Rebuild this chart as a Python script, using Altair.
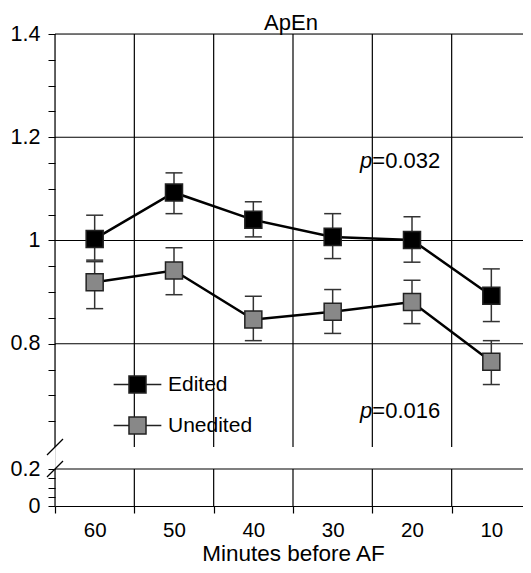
import altair as alt
import pandas as pd

FONT = "Liberation Sans"

minutes = ["60", "50", "40", "30", "20", "10"]
series_names = ["Edited", "Unedited"]

edited_mean = [1.003, 1.093, 1.040, 1.007, 1.001, 0.893]
edited_upper = [1.049, 1.131, 1.075, 1.052, 1.046, 0.945]
edited_lower = [0.962, 1.052, 1.007, 0.965, 0.958, 0.843]

unedited_mean = [0.919, 0.942, 0.847, 0.862, 0.881, 0.765]
unedited_upper = [0.959, 0.986, 0.892, 0.905, 0.923, 0.806]
unedited_lower = [0.868, 0.895, 0.806, 0.820, 0.839, 0.721]

y_tick_values = [0, 0.05, 0.1, 0.15, 0.2,
                 0.65, 0.7, 0.75, 0.8, 0.85, 0.9, 0.95, 1.0,
                 1.05, 1.1, 1.15, 1.2, 1.25, 1.3, 1.35, 1.4]
y_label_values = [0, 0.2, 0.8, 1, 1.2, 1.4]
h_grid_values = [0.2, 0.8, 1.0, 1.2, 1.4]
upper_section = [0.6, 1.4]
lower_section = [0, 0.2]
break_values = [0.2, 0.6]

p_labels = ["=0.032", "=0.016"]
p_y = [1.141, 0.657]
p_x = ["20", "20"]

rows = []
for s, means, los, his in [("Edited", edited_mean, edited_lower, edited_upper),
                           ("Unedited", unedited_mean, unedited_lower, unedited_upper)]:
    for m, v, lo, hi in zip(minutes, means, los, his):
        rows.append(dict(minutes=m, series=s, mean=v, lower=lo, upper=hi))
df = pd.DataFrame(rows)

vseg = []
for m in minutes[1:]:
    vseg.append(dict(minutes=m, y0=upper_section[0], y1=upper_section[1]))
    vseg.append(dict(minutes=m, y0=lower_section[0], y1=lower_section[1]))
vseg_df = pd.DataFrame(vseg)

axis_seg_df = pd.DataFrame([dict(y0=upper_section[0], y1=upper_section[1]),
                            dict(y0=lower_section[0], y1=lower_section[1])])
hgrid_df = pd.DataFrame(dict(y=h_grid_values))
break_df = pd.DataFrame(dict(y=break_values))
p_df = pd.DataFrame(dict(minutes=p_x, y=p_y, label=p_labels))

W, H = 468, 472
XR = 476  # band range runs slightly past the visible edge, as in the reference
yscale = alt.Scale(domain=[0, 0.2, 0.6, 1.4], range=[H, H - 37, H - 59, 0], nice=False, zero=False)
xscale = alt.Scale(domain=minutes, paddingInner=0, paddingOuter=0, range=[0, XR])

label_list = ",".join(str(v) for v in y_label_values)
yaxis = alt.Axis(values=y_tick_values, format="~g",
                 labelExpr=f"indexof([{label_list}], datum.value) >= 0 ? datum.label : ''",
                 domain=False, grid=False, tickSize=7, tickColor="black", tickWidth=1,
                 labelFontSize=21.5, labelFont=FONT, labelColor="black", labelPadding=8,
                 labelOverlap=False, labelFlush=False, title=None)
xaxis = alt.Axis(title="Minutes before AF", titleFontSize=22.5, titleFont=FONT,
                 titleFontWeight="normal", titleColor="black", titlePadding=2,
                 labelFontSize=20.5, labelFont=FONT, labelColor="black", labelAngle=0,
                 labelPadding=7, tickBand="extent", tickSize=7, tickColor="black",
                 tickWidth=1.2, domain=True, domainColor="black", domainWidth=1.2,
                 grid=False)

X = lambda **kw: alt.X("minutes:N", scale=xscale, sort=minutes, axis=xaxis, **kw)

hgrid = alt.Chart(hgrid_df).mark_rule(color="black", strokeWidth=1.2).encode(
    y=alt.Y("y:Q", scale=yscale, axis=yaxis))

vgrid = alt.Chart(vseg_df).mark_rule(color="black", strokeWidth=1.2).encode(
    x=X(bandPosition=0),
    y=alt.Y("y0:Q", scale=yscale, axis=yaxis), y2="y1:Q")

yline = alt.Chart(axis_seg_df).mark_rule(color="black", strokeWidth=1.2).encode(
    x=alt.value(0), y=alt.Y("y0:Q", scale=yscale, axis=yaxis), y2="y1:Q")

breaks = alt.Chart(break_df).mark_point(shape="M-1,1L1,-1", size=256, filled=False,
                                        stroke="black", strokeWidth=1.2, opacity=1).encode(
    x=alt.value(0), y=alt.Y("y:Q", scale=yscale, axis=yaxis))

err = alt.Chart(df).mark_rule(color="#333333", strokeWidth=1.5).encode(
    x=X(), y=alt.Y("lower:Q", scale=yscale, axis=yaxis), y2="upper:Q")
cap_lo = alt.Chart(df).mark_tick(color="#333333", thickness=1.5, size=17, opacity=1).encode(
    x=X(), y=alt.Y("lower:Q", scale=yscale, axis=yaxis))
cap_hi = alt.Chart(df).mark_tick(color="#333333", thickness=1.5, size=17, opacity=1).encode(
    x=X(), y=alt.Y("upper:Q", scale=yscale, axis=yaxis))

lines = alt.Chart(df).mark_line(color="black", strokeWidth=2.5).encode(
    x=X(), y=alt.Y("mean:Q", scale=yscale, axis=yaxis), detail="series:N")

LEG_PATH = "M-2.8,0H-1M1,0H2.8M-1,-1H1V1H-1Z"
squares = alt.Chart(df).mark_square(size=290, filled=True, opacity=1, stroke="#222222",
                                    strokeWidth=1.5).encode(
    x=X(), y=alt.Y("mean:Q", scale=yscale, axis=yaxis),
    fill=alt.Fill("series:N", scale=alt.Scale(domain=series_names, range=["#000000", "#888888"]),
                  legend=alt.Legend(title=None, orient="none", legendX=72, legendY=340,
                                    symbolType=LEG_PATH, symbolSize=290,
                                    symbolStrokeColor="#222222", symbolStrokeWidth=1.5,
                                    symbolOpacity=1, labelFontSize=21, labelFont=FONT,
                                    labelColor="black", labelOffset=20, rowPadding=16)))

p_italic = alt.Chart(p_df).mark_text(text="p", fontStyle="italic", fontSize=22, font=FONT,
                                     align="right", baseline="alphabetic", color="black").encode(
    x=X(bandPosition=0), y=alt.Y("y:Q", scale=yscale, axis=yaxis))
p_rest = alt.Chart(p_df).mark_text(fontSize=22, font=FONT, align="left",
                                   baseline="alphabetic", color="black").encode(
    x=X(bandPosition=0), y=alt.Y("y:Q", scale=yscale, axis=yaxis), text="label:N")

chart = alt.layer(hgrid, vgrid, yline, breaks, err, cap_lo, cap_hi, lines, squares,
                  p_italic, p_rest).properties(
    width=W, height=H,
    title=alt.Title("ApEn", fontSize=22, font=FONT, fontWeight="normal", color="black",
                    anchor="middle", offset=-12.25, dx=2),
    autosize=alt.AutoSizeParams(type="none"),
    padding={"left": 47, "top": 26, "right": 0, "bottom": 59},
).configure_view(stroke=None).configure(background="white")

chart.save("out.html", embed_options={"renderer": "svg", "actions": False})
